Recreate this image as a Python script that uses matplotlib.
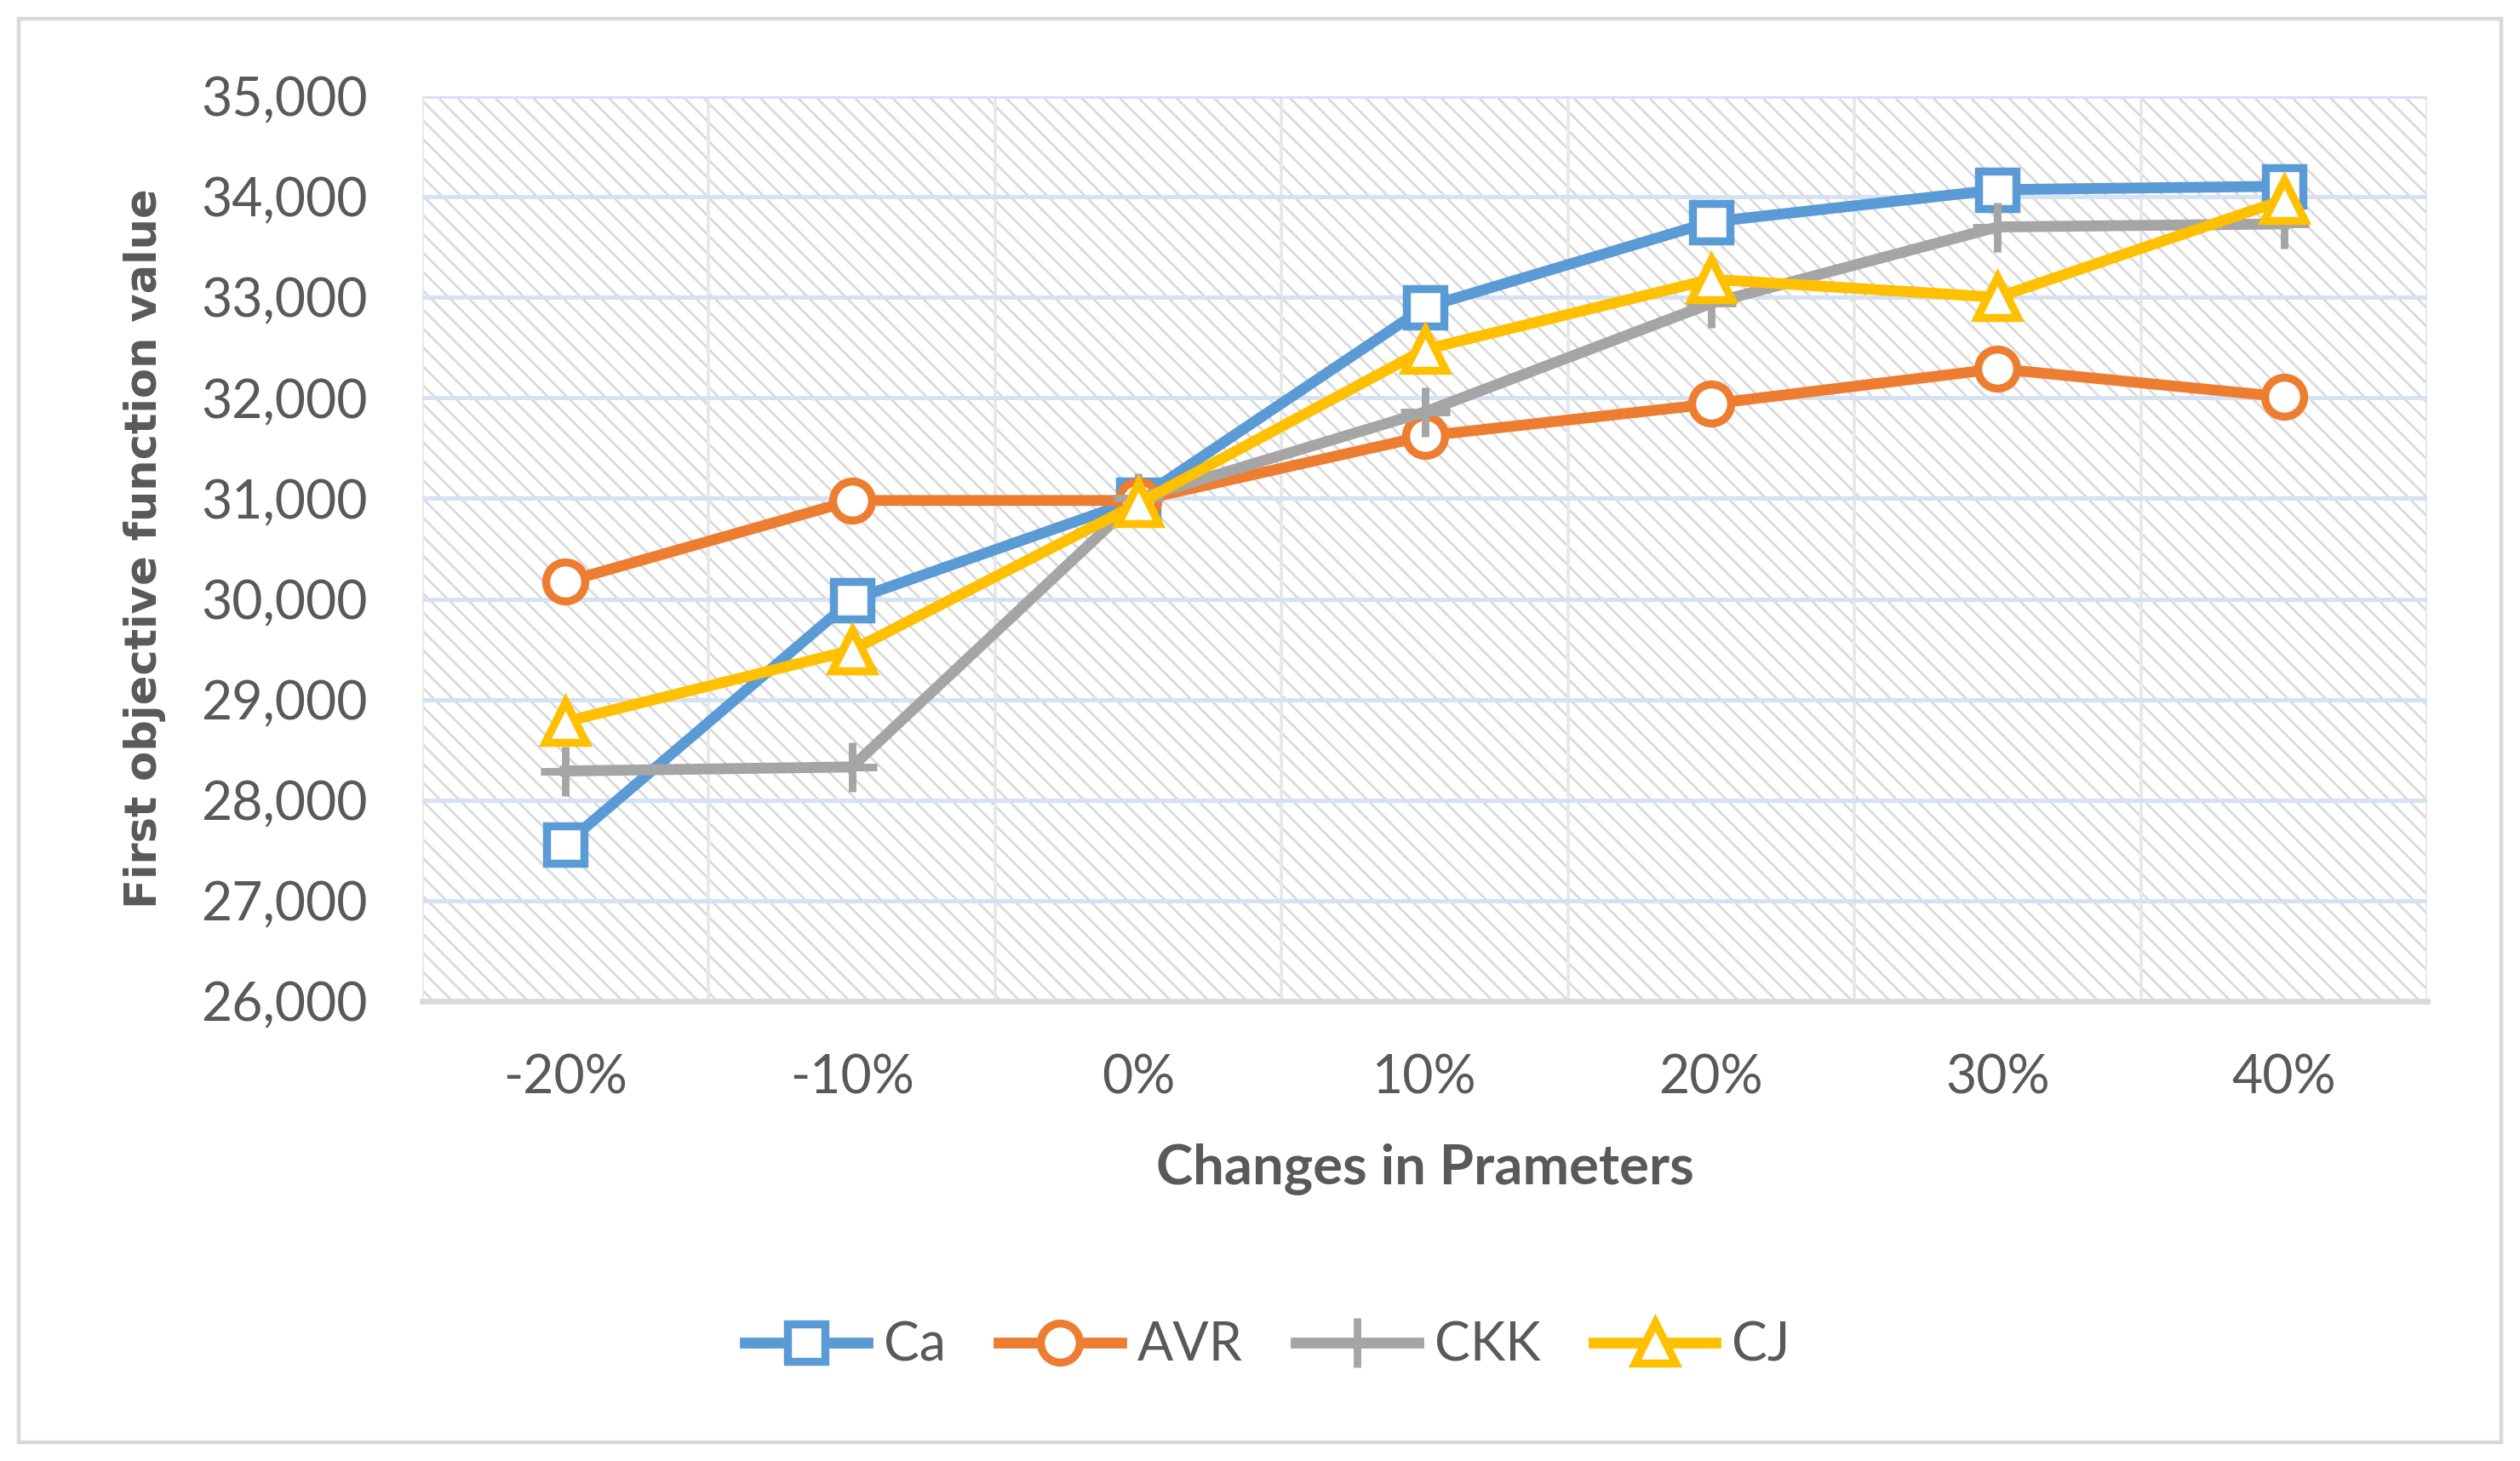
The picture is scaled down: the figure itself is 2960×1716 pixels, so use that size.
import numpy as np
import matplotlib
matplotlib.use("Agg")
import matplotlib.pyplot as plt
from matplotlib.patches import Rectangle
from matplotlib.ticker import FuncFormatter

# valeurs
categories = ["-20%", "-10%", "0%", "10%", "20%", "30%", "40%"]
ca = [27560, 29990, 30990, 32900, 33750, 34070, 34105]
avr = [30170, 30980, 30980, 31620, 31940, 32290, 32010]
ckk = [28290, 28330, 31000, 31860, 32940, 33700, 33730]
cj = [28780, 29490, 30950, 32480, 33180, 33000, 33970]

series_names = ["Ca", "AVR", "CKK", "CJ"]
series_colors = ["#5B9BD5", "#ED7D31", "#A5A5A5", "#FFC000"]
text_color = "#595959"

plt.rcParams["font.family"] = ["Lato", "DejaVu Sans"]
plt.rcParams["hatch.linewidth"] = 1.0

fig = plt.figure(figsize=(14.8, 8.58), dpi=200)
W, H = 2960, 1716
left, right, top, bottom = 496, 2851, 113, 1176
ax = fig.add_axes([left / W, 1 - bottom / H, (right - left) / W, (bottom - top) / H])

# fond hachuré
ax.add_patch(Rectangle((0, 0), 1, 1, transform=ax.transAxes, facecolor="white",
                       edgecolor="#dadada", hatch="\\\\\\", linewidth=0, zorder=0))

x = np.arange(len(categories))
ax.plot(x, ca, color=series_colors[0], lw=4.6, marker="s", ms=16, mew=3.4,
        mfc="white", mec=series_colors[0], label="Ca", zorder=3)
ax.plot(x, avr, color=series_colors[1], lw=4.6, marker="o", ms=16.5, mew=3.4,
        mfc="white", mec=series_colors[1], label="AVR", zorder=3)
ax.plot(x, ckk, color=series_colors[2], lw=4.6, marker="+", ms=21, mew=3.2,
        mec=series_colors[2], label="CKK", zorder=3)
ax.plot(x, cj, color=series_colors[3], lw=4.6, marker="^", ms=17, mew=3.4,
        mfc="white", mec=series_colors[3], label="CJ", zorder=3)

ax.set_xlim(-0.5, len(categories) - 0.5)
ax.set_ylim(26000, 35000)
ax.set_yticks(np.arange(26000, 35001, 1000))
ax.yaxis.set_major_formatter(FuncFormatter(lambda v, p: f"{int(v):,}"))
ax.set_xticks(x)
ax.set_xticklabels(categories)
ax.set_xticks(np.arange(-0.5, len(categories), 0.5), minor=True)

ax.grid(axis="y", which="major", color="#d6e1f2", lw=1.8, zorder=1)
ax.grid(axis="x", which="minor", color="#e8e8e8", lw=1.4, zorder=1)
ax.set_axisbelow(True)

for s in ["top", "right", "left"]:
    ax.spines[s].set_visible(False)
ax.spines["bottom"].set_color("#d9d9d9")
ax.spines["bottom"].set_linewidth(2.4)

ax.tick_params(axis="both", which="both", length=0, labelsize=22.5, colors=text_color)
ax.tick_params(axis="x", pad=22)
ax.tick_params(axis="y", pad=23)

ax.set_ylabel("First objective function value", fontsize=18.4, fontweight="bold",
              color=text_color, family="DejaVu Sans", va="center")
ax.yaxis.set_label_coords(-0.1384, 0.5)
ax.set_xlabel("Changes in Prameters", fontsize=23.5, fontweight="bold",
              color=text_color, va="center")
ax.xaxis.set_label_coords(0.5, -0.186)

fig.legend(loc="center", bbox_to_anchor=(0.503, 0.079), ncol=4, frameon=False,
           fontsize=22.5, handlelength=2.3, columnspacing=1.0, handletextpad=0.3,
           labelcolor=text_color)

# cadre extérieur
fig.patches.append(Rectangle((22 / W, 22 / H), (2938 - 22) / W, (1694 - 22) / H,
                             transform=fig.transFigure, fill=False,
                             edgecolor="#d9d9d9", lw=1.6))

fig.savefig("out.png", dpi=200)
